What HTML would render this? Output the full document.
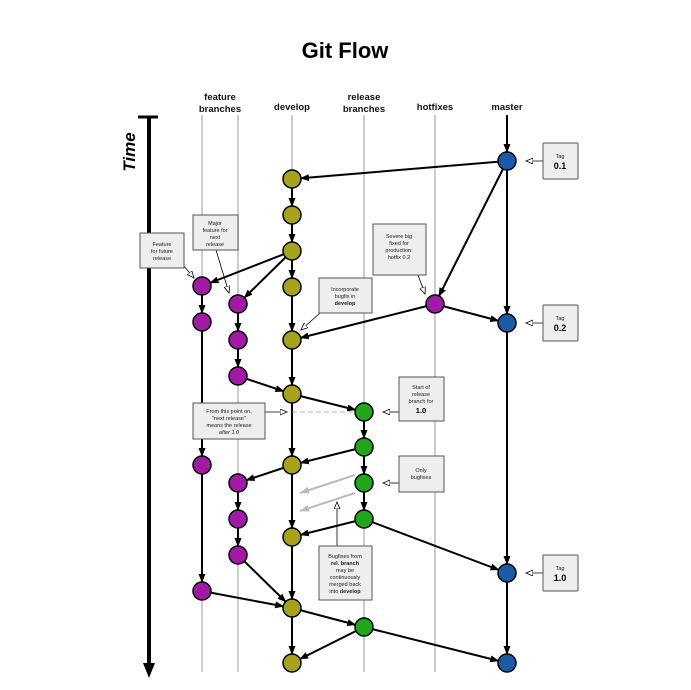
<!DOCTYPE html>
<html><head><meta charset="utf-8"><style>
html,body{margin:0;padding:0;background:#fff}
svg{display:block}
text{font-family:"Liberation Sans",sans-serif}
.box{fill:#eeeeee;stroke:#555;stroke-width:1}
.bt{font-size:5.5px;fill:#222;text-anchor:middle}
</style></head><body>
<svg width="691" height="690" viewBox="0 0 691 690" xmlns="http://www.w3.org/2000/svg">
<defs>
<marker id="a" markerUnits="userSpaceOnUse" markerWidth="30" markerHeight="10" refX="17" refY="3.5" orient="auto"><path d="M0,0 L9,3.5 L0,7 z" fill="#000"/></marker>
<marker id="g" markerUnits="userSpaceOnUse" markerWidth="12" markerHeight="10" refX="9" refY="3.5" orient="auto"><path d="M0,0 L9,3.5 L0,7 z" fill="#bbb"/></marker>
<marker id="o" markerUnits="userSpaceOnUse" markerWidth="12" markerHeight="10" refX="7" refY="3" orient="auto"><path d="M0,0 L7,3 L0,6 z" fill="#fff" stroke="#000" stroke-width="0.8"/></marker>
</defs>
<text x="345" y="58" font-size="22" font-weight="bold" text-anchor="middle">Git Flow</text>
<g font-size="9.5" font-weight="bold" text-anchor="middle" fill="#111">
<text x="220" y="100">feature</text><text x="220" y="112">branches</text>
<text x="292" y="110">develop</text>
<text x="364" y="100">release</text><text x="364" y="112">branches</text>
<text x="435" y="110">hotfixes</text>
<text x="507" y="110">master</text>
</g>
<text transform="translate(135,152) rotate(-90)" font-size="17" font-weight="bold" font-style="italic" text-anchor="middle">Time</text>
<line x1="149" y1="117" x2="149" y2="665" stroke="#000" stroke-width="4"/>
<line x1="138" y1="117" x2="158" y2="117" stroke="#000" stroke-width="3"/>
<path d="M143,663 L149,678 L155,663 z" fill="#000"/>
<g stroke="#bbb" stroke-width="1.5">
<line x1="202" y1="115" x2="202" y2="672"/><line x1="238" y1="115" x2="238" y2="672"/>
<line x1="292" y1="115" x2="292" y2="672"/><line x1="364" y1="115" x2="364" y2="672"/>
<line x1="435" y1="115" x2="435" y2="672"/>
</g>
<line x1="507" y1="115" x2="507" y2="161" stroke="#000" stroke-width="2" marker-end="url(#a)"/>
<g stroke="#000" stroke-width="2" fill="none" marker-end="url(#a)">
<line x1="507" y1="161" x2="507" y2="323"/><line x1="507" y1="323" x2="507" y2="573"/><line x1="507" y1="573" x2="507" y2="663"/>
<line x1="507" y1="161" x2="292" y2="179"/><line x1="507" y1="161" x2="435" y2="304"/>
<line x1="292" y1="179" x2="292" y2="215"/><line x1="292" y1="215" x2="292" y2="251"/><line x1="292" y1="251" x2="292" y2="287"/>
<line x1="292" y1="287" x2="292" y2="340"/><line x1="292" y1="340" x2="292" y2="394"/><line x1="292" y1="394" x2="292" y2="465"/>
<line x1="292" y1="465" x2="292" y2="537"/><line x1="292" y1="537" x2="292" y2="608"/><line x1="292" y1="608" x2="292" y2="663"/>
<line x1="292" y1="251" x2="202" y2="286"/><line x1="292" y1="251" x2="238" y2="304"/>
<line x1="202" y1="286" x2="202" y2="322"/><line x1="202" y1="322" x2="202" y2="465"/><line x1="202" y1="465" x2="202" y2="591"/>
<line x1="238" y1="304" x2="238" y2="340"/><line x1="238" y1="340" x2="238" y2="376"/><line x1="238" y1="376" x2="292" y2="394"/>
<line x1="238" y1="483" x2="238" y2="519"/><line x1="238" y1="519" x2="238" y2="555"/><line x1="238" y1="555" x2="292" y2="608"/>
<line x1="435" y1="304" x2="292" y2="340"/><line x1="435" y1="304" x2="507" y2="323"/>
<line x1="292" y1="394" x2="364" y2="412"/><line x1="364" y1="412" x2="364" y2="447"/><line x1="364" y1="447" x2="364" y2="483"/><line x1="364" y1="483" x2="364" y2="519"/>
<line x1="364" y1="447" x2="292" y2="465"/><line x1="292" y1="465" x2="238" y2="483"/>
<line x1="364" y1="519" x2="292" y2="537"/><line x1="364" y1="519" x2="507" y2="573"/>
<line x1="202" y1="591" x2="292" y2="608"/><line x1="292" y1="608" x2="364" y2="627"/>
<line x1="364" y1="627" x2="292" y2="663"/><line x1="364" y1="627" x2="507" y2="663"/>
</g>
<g stroke="#bbb" stroke-width="2" marker-end="url(#g)">
<line x1="355" y1="475" x2="300" y2="493"/><line x1="355" y1="493" x2="300" y2="511"/>
</g>
<g stroke="#000" stroke-width="0.8" fill="none" marker-end="url(#o)">
<line x1="543" y1="161" x2="526" y2="161"/><line x1="543" y1="323" x2="526" y2="323"/><line x1="543" y1="573" x2="526" y2="573"/>
<line x1="399" y1="412" x2="383" y2="412"/><line x1="399" y1="483" x2="383" y2="483"/>
<line x1="184" y1="266" x2="194" y2="278"/><line x1="216" y1="250" x2="229" y2="293"/>
<line x1="418" y1="275" x2="425" y2="294"/><line x1="320" y1="313" x2="301" y2="330"/>
<line x1="337" y1="546" x2="337" y2="502"/>
<line x1="265" y1="412" x2="287" y2="412"/>
</g>
<line x1="292" y1="412" x2="355" y2="412" stroke="#999" stroke-width="0.8" stroke-dasharray="5,3"/>
<g stroke="#000" stroke-width="1.5">
<g fill="#a6a21b"><circle cx="292" cy="179" r="9"/><circle cx="292" cy="215" r="9"/><circle cx="292" cy="251" r="9"/><circle cx="292" cy="287" r="9"/><circle cx="292" cy="340" r="9"/><circle cx="292" cy="394" r="9"/><circle cx="292" cy="465" r="9"/><circle cx="292" cy="537" r="9"/><circle cx="292" cy="608" r="9"/><circle cx="292" cy="663" r="9"/></g>
<g fill="#1a5aa6"><circle cx="507" cy="161" r="9"/><circle cx="507" cy="323" r="9"/><circle cx="507" cy="573" r="9"/><circle cx="507" cy="663" r="9"/></g>
<g fill="#a11aa6"><circle cx="202" cy="286" r="9"/><circle cx="202" cy="322" r="9"/><circle cx="202" cy="465" r="9"/><circle cx="202" cy="591" r="9"/><circle cx="238" cy="304" r="9"/><circle cx="238" cy="340" r="9"/><circle cx="238" cy="376" r="9"/><circle cx="238" cy="483" r="9"/><circle cx="238" cy="519" r="9"/><circle cx="238" cy="555" r="9"/><circle cx="435" cy="304" r="9"/></g>
<g fill="#1fa61a"><circle cx="364" cy="412" r="9"/><circle cx="364" cy="447" r="9"/><circle cx="364" cy="483" r="9"/><circle cx="364" cy="519" r="9"/><circle cx="364" cy="627" r="9"/></g>
</g>
<rect class="box" x="543" y="143" width="35" height="36" rx="1"/><text class="bt" x="560" y="158">Tag</text><text x="560" y="169" font-size="9" font-weight="bold" text-anchor="middle">0.1</text>
<rect class="box" x="543" y="305" width="35" height="36" rx="1"/><text class="bt" x="560" y="320">Tag</text><text x="560" y="331" font-size="9" font-weight="bold" text-anchor="middle">0.2</text>
<rect class="box" x="543" y="555" width="35" height="36" rx="1"/><text class="bt" x="560" y="570">Tag</text><text x="560" y="581" font-size="9" font-weight="bold" text-anchor="middle">1.0</text>
<rect class="box" x="140" y="233" width="44" height="35"/><text class="bt" x="162" y="246">Feature</text><text class="bt" x="162" y="253">for future</text><text class="bt" x="162" y="260">release</text>
<rect class="box" x="193" y="215" width="45" height="35"/><text class="bt" x="215" y="225">Major</text><text class="bt" x="215" y="232">feature for</text><text class="bt" x="215" y="239">next</text><text class="bt" x="215" y="246">release</text>
<rect class="box" x="373" y="224" width="53" height="51"/><text class="bt" x="399" y="238">Severe big</text><text class="bt" x="399" y="245">fixed for</text><text class="bt" x="399" y="252">production:</text><text class="bt" x="399" y="259">hotfix 0.2</text>
<rect class="box" x="319" y="278" width="53" height="35"/><text class="bt" x="345" y="291">Incorporate</text><text class="bt" x="345" y="298">bugfix in</text><text class="bt" x="345" y="305" font-weight="bold">develop</text>
<rect class="box" x="399" y="377" width="45" height="44"/><text class="bt" x="421" y="389">Start of</text><text class="bt" x="421" y="396">release</text><text class="bt" x="421" y="403">branch for</text><text x="421" y="413" font-size="7.5" font-weight="bold" text-anchor="middle">1.0</text>
<rect class="box" x="193" y="403" width="72" height="36"/><text class="bt" x="229" y="413">From this point on,</text><text class="bt" x="229" y="420">"next release"</text><text class="bt" x="229" y="427">means the release</text><text class="bt" x="229" y="434" font-style="italic">after 1.0</text>
<rect class="box" x="399" y="456" width="45" height="36"/><text class="bt" x="421" y="472">Only</text><text class="bt" x="421" y="479">bugfixes</text>
<rect class="box" x="319" y="546" width="53" height="54"/><text class="bt" x="345" y="558">Bugfixes from</text><text class="bt" x="345" y="565" font-weight="bold">rel. branch</text><text class="bt" x="345" y="572">may be</text><text class="bt" x="345" y="579">continuously</text><text class="bt" x="345" y="586">merged back</text><text class="bt" x="345" y="593">into <tspan font-weight="bold">develop</tspan></text>
</svg>
</body></html>
